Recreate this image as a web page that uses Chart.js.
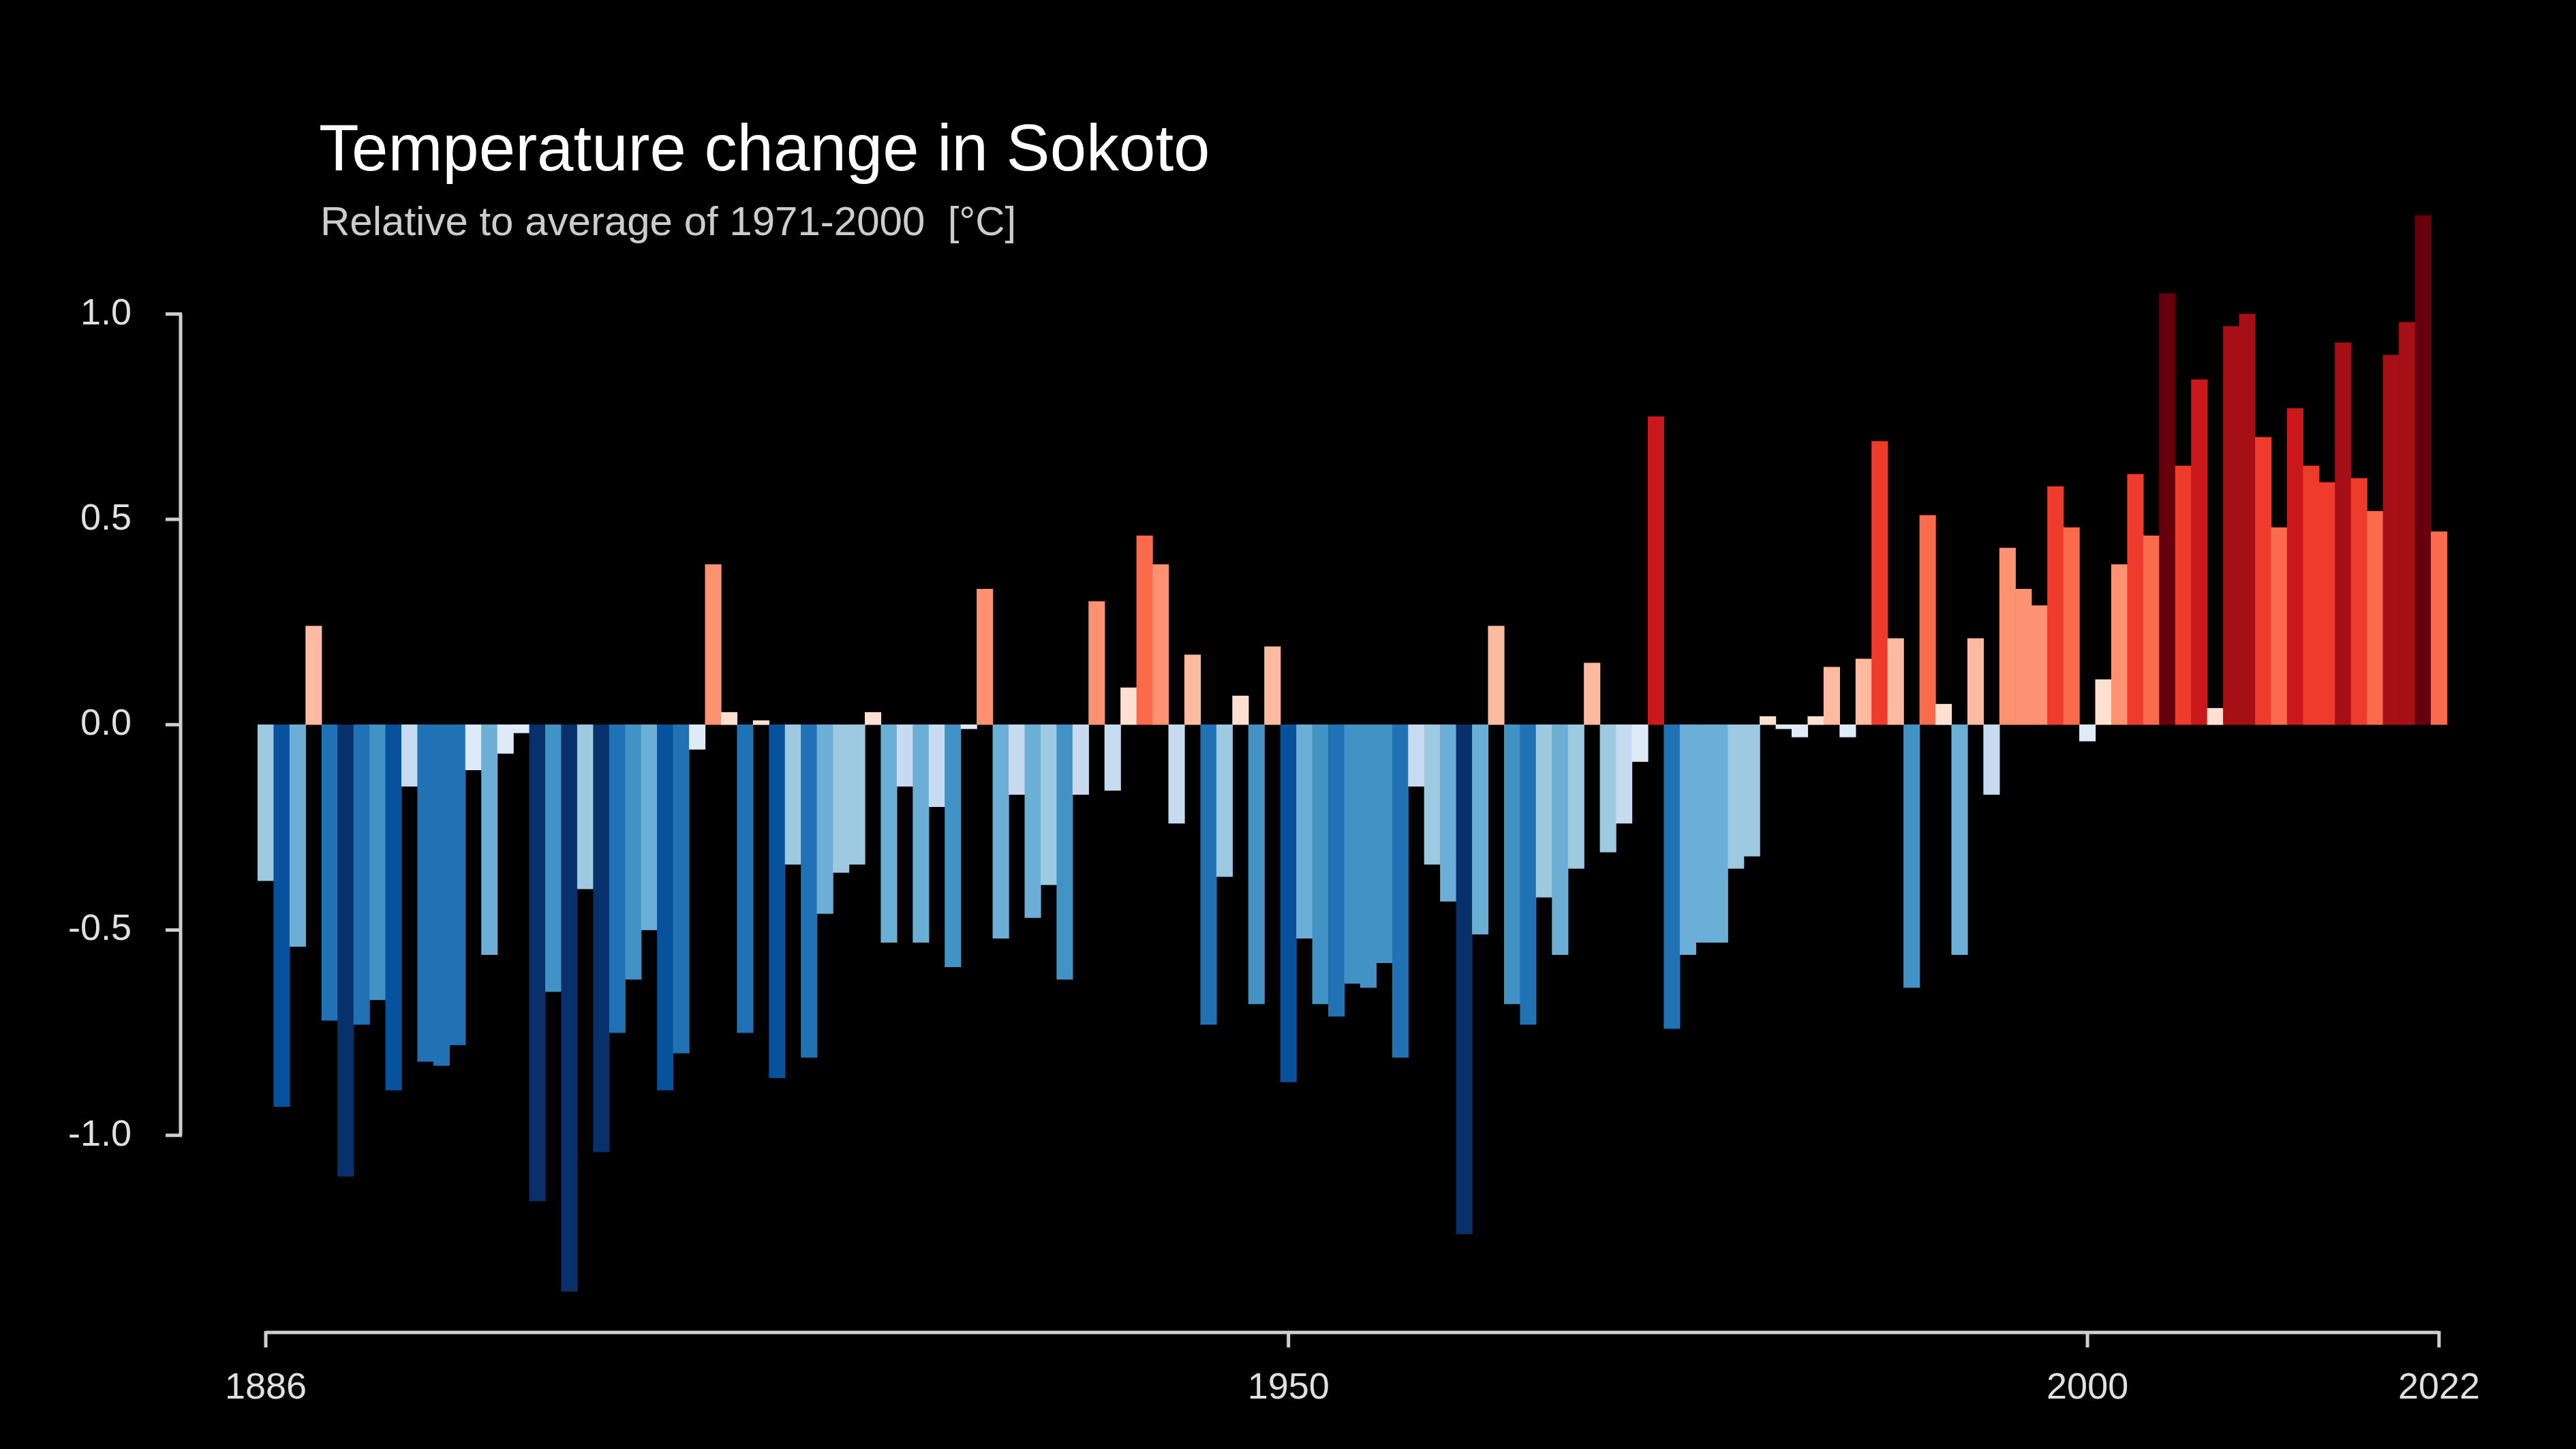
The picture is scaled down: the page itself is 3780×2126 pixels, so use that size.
<!DOCTYPE html>
<html><head><meta charset="utf-8">
<script src="https://cdn.jsdelivr.net/npm/chart.js@4"></script>
<style>html,body{margin:0;padding:0;background:#000;}canvas{display:block}</style>
</head><body>
<canvas id="c" width="3780" height="2126" style="width:3780px;height:2126px"></canvas>
<script>
const firstYear = 1886;
const anomalies = [
-0.38,-0.93,-0.54,0.24,-0.72,-1.10,-0.73,-0.67,-0.89,-0.15,
-0.82,-0.83,-0.78,-0.11,-0.56,-0.07,-0.02,-1.16,-0.65,-1.38,
-0.40,-1.04,-0.75,-0.62,-0.50,-0.89,-0.80,-0.06,0.39,0.03,
-0.75,0.01,-0.86,-0.34,-0.81,-0.46,-0.36,-0.34,0.03,-0.53,
-0.15,-0.53,-0.20,-0.59,-0.01,0.33,-0.52,-0.17,-0.47,-0.39,
-0.62,-0.17,0.30,-0.16,0.09,0.46,0.39,-0.24,0.17,-0.73,
-0.37,0.07,-0.68,0.19,-0.87,-0.52,-0.68,-0.71,-0.63,-0.64,
-0.58,-0.81,-0.15,-0.34,-0.43,-1.24,-0.51,0.24,-0.68,-0.73,
-0.42,-0.56,-0.35,0.15,-0.31,-0.24,-0.09,0.75,-0.74,-0.56,
-0.53,-0.53,-0.35,-0.32,0.02,-0.01,-0.03,0.02,0.14,-0.03,
0.16,0.69,0.21,-0.64,0.51,0.05,-0.56,0.21,-0.17,0.43,
0.33,0.29,0.58,0.48,-0.04,0.11,0.39,0.61,0.46,1.05,
0.63,0.84,0.04,0.97,1.00,0.70,0.48,0.77,0.63,0.59,
0.93,0.60,0.52,0.90,0.98,1.24,0.47
];
const years = anomalies.map((_, i) => firstYear + i);
const xTicks = [1886, 1950, 2000, 2022];
const yTicks = [1.0, 0.5, 0.0, -0.5, -1.0];
const titleText = "Temperature change in Sokoto";
const subtitleText = "Relative to average of 1971-2000  [°C]";

function colorFor(v){
  if (v < 0){
    if (v <= -1.0) return '#08306b';
    if (v <= -0.85) return '#08519c';
    if (v <= -0.70) return '#2171b5';
    if (v <= -0.57) return '#4292c6';
    if (v <= -0.43) return '#6baed6';
    if (v <= -0.28) return '#9ecae1';
    if (v <= -0.13) return '#c6dbef';
    return '#deebf7';
  }
  if (v >= 1.02) return '#67000d';
  if (v >= 0.87) return '#a50f15';
  if (v >= 0.72) return '#cb181d';
  if (v >= 0.55) return '#ef3b2c';
  if (v >= 0.445) return '#fb6a4a';
  if (v >= 0.27) return '#fc9272';
  if (v >= 0.13) return '#fcbba1';
  return '#fee0d2';
}

const FONT = '"Liberation Sans", Arial, sans-serif';
const axesPlugin = {
  id: 'axes',
  afterDraw(chart){
    const ctx = chart.ctx, xs = chart.scales.x, ys = chart.scales.y;
    ctx.save();
    ctx.strokeStyle = '#cfcfcf'; ctx.lineWidth = 5; ctx.lineCap = 'butt';
    const ax = 265;
    ctx.beginPath();
    ctx.moveTo(ax, ys.getPixelForValue(1.0)); ctx.lineTo(ax, ys.getPixelForValue(-1.0));
    ctx.stroke();
    ctx.fillStyle = '#e0e0e0'; ctx.font = '54px ' + FONT;
    ctx.textAlign = 'right'; ctx.textBaseline = 'middle';
    yTicks.forEach(t => {
      const py = ys.getPixelForValue(t);
      ctx.beginPath(); ctx.moveTo(ax - 22, py); ctx.lineTo(ax + 2, py); ctx.stroke();
      ctx.fillText(t.toFixed(1), 193, py);
    });
    const ay = ys.getPixelForValue(ys.min);
    ctx.beginPath();
    ctx.moveTo(xs.getPixelForValue(xTicks[0]), ay); ctx.lineTo(xs.getPixelForValue(xTicks[xTicks.length-1]), ay);
    ctx.stroke();
    ctx.textAlign = 'center'; ctx.textBaseline = 'middle';
    xTicks.forEach(t => {
      const px = xs.getPixelForValue(t);
      ctx.beginPath(); ctx.moveTo(px, ay - 2); ctx.lineTo(px, ay + 22); ctx.stroke();
      ctx.fillText(String(t), px, 2037);
    });
    ctx.textAlign = 'left'; ctx.textBaseline = 'alphabetic';
    ctx.fillStyle = '#ffffff'; ctx.font = '96px ' + FONT;
    ctx.fillText(titleText, 468, 250);
    ctx.fillStyle = '#cccccc'; ctx.font = '60px ' + FONT;
    ctx.fillText(subtitleText, 470, 345);
    ctx.restore();
  }
};

new Chart(document.getElementById('c'), {
  type: 'bar',
  data: {
    datasets: [{
      data: years.map((y, i) => ({x: y, y: anomalies[i]})),
      backgroundColor: anomalies.map(colorFor),
      borderWidth: 0,
      barPercentage: 1.0,
      categoryPercentage: 1.0,
      clip: false
    }]
  },
  options: {
    responsive: false,
    devicePixelRatio: 1,
    animation: false,
    layout: { padding: { left: 390, right: 201, top: 280, bottom: 171 } },
    plugins: { legend: { display: false }, tooltip: { enabled: false } },
    scales: {
      x: { type: 'linear', min: 1886, max: 2022, offset: false, display: false },
      y: { min: -1.48, max: 1.3, display: false }
    }
  },
  plugins: [axesPlugin, {
    id: 'bg',
    beforeDraw(chart){ const c = chart.ctx; c.save(); c.fillStyle = '#000'; c.fillRect(0,0,chart.width,chart.height); c.restore(); }
  }]
});
</script>
</body></html>
